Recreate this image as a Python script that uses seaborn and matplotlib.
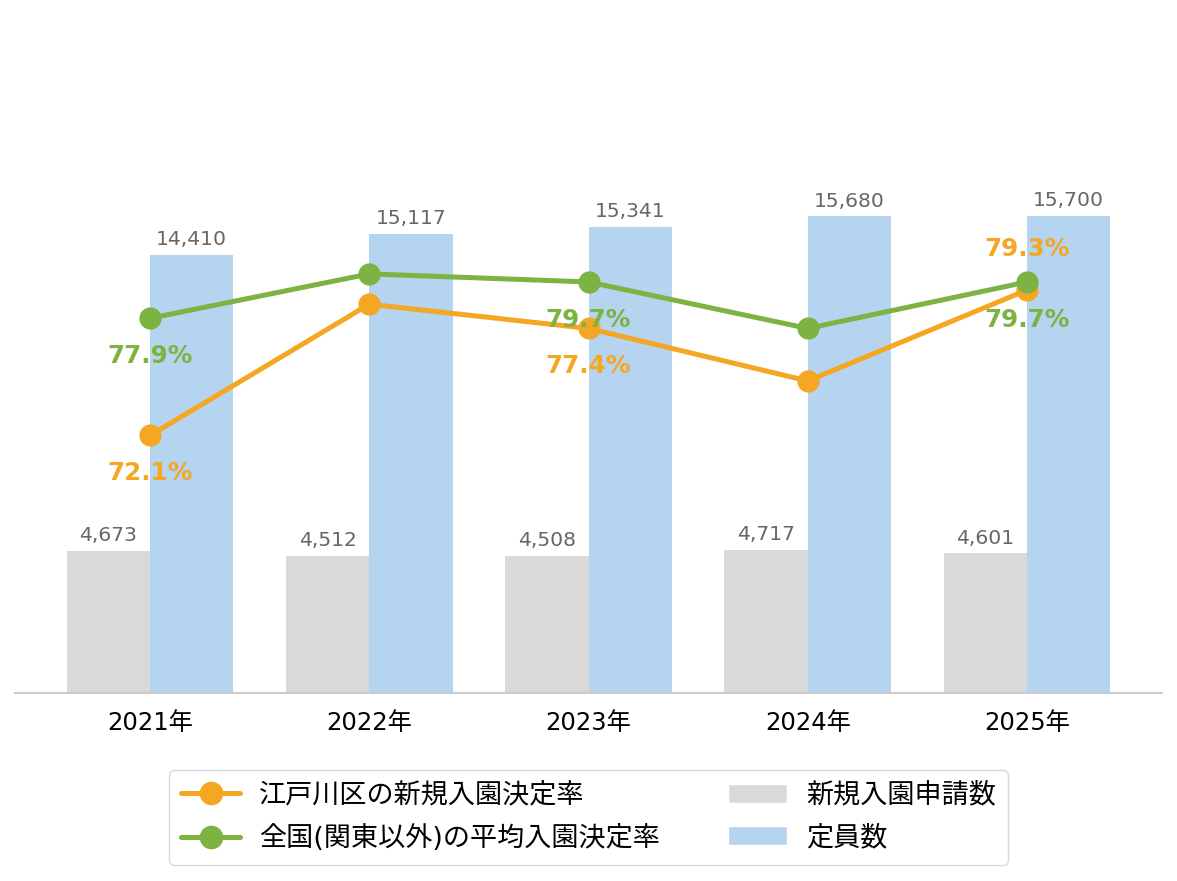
import matplotlib.pyplot as plt
import seaborn as sns
import pandas as pd
from matplotlib.lines import Line2D
from matplotlib.patches import Patch

# data
years = ["2021年", "2022年", "2023年", "2024年", "2025年"]
applicants = [4673, 4512, 4508, 4717, 4601]
capacity = [14410, 15117, 15341, 15680, 15700]
edogawa_rate = [72.1, 78.6, 77.4, 74.8, 79.3]
national_rate = [77.9, 80.1, 79.7, 77.4, 79.7]

bar_names = ["新規入園申請数", "定員数"]
line_names = ["江戸川区の新規入園決定率", "全国(関東以外)の平均入園決定率"]

# which rate labels are shown, and where (above / below the point)
edogawa_shown = {0: "below", 2: "below", 4: "above"}
national_shown = {0: "below", 2: "below", 4: "below"}

grey = "#D9D9D9"
blue = "#B4D4EF"
orange = "#F5A623"
green = "#7CB342"

sns.set_theme(style="white")
plt.rcParams["font.family"] = ["DejaVu Sans", "Noto Sans CJK JP"]
plt.rcParams["text.color"] = "black"

bars = pd.DataFrame({
    "year": years * 2,
    "series": [bar_names[0]] * len(years) + [bar_names[1]] * len(years),
    "value": applicants + capacity,
})

fig = plt.figure(figsize=(11.77, 8.81), dpi=100)
ax = fig.add_axes([15 / 1177, 188 / 881, 1147 / 1177, 693 / 881])

sns.barplot(
    data=bars, x="year", y="value", hue="series", hue_order=bar_names,
    palette=[grey, blue], width=0.76, saturation=1, ax=ax, legend=False,
    linewidth=0, edgecolor="none",
)
for cont in ax.containers:
    ax.bar_label(cont, labels=[f"{v:,.0f}" for v in cont.datavalues],
                 padding=4, color="#666666", fontsize=14.6)

ax.set_xlim(-0.616, 4.616)
ax.set_ylim(0, 22800)
ax.set_xlabel("")
ax.set_ylabel("")
ax.set_yticks([])
ax.tick_params(axis="x", labelsize=17.5, length=0, pad=13, colors="black")
for s in ["left", "right", "top"]:
    ax.spines[s].set_visible(False)
ax.spines["bottom"].set_color("#CCCCCC")
ax.spines["bottom"].set_linewidth(1.5)

ax2 = ax.twinx()
xs = list(range(len(years)))
for vals, col, shown in [(edogawa_rate, orange, edogawa_shown),
                         (national_rate, green, national_shown)]:
    sns.lineplot(x=xs, y=vals, ax=ax2, color=col, linewidth=3.6,
                 marker="o", markersize=16, markeredgewidth=0)
    for i, where in shown.items():
        dy = -38 if where == "below" else 41
        ax2.annotate(f"{vals[i]:.1f}%", (xs[i], vals[i]),
                     xytext=(0, dy), textcoords="offset pixels",
                     ha="center", va="center", color=col,
                     fontsize=17.7, fontweight="bold")

ax2.set_ylim(59.35, 93.66)
ax2.set_xlim(-0.616, 4.616)
ax2.set_yticks([])
ax2.set_ylabel("")
for s in ["left", "right", "top", "bottom"]:
    ax2.spines[s].set_visible(False)

handles = [
    Line2D([], [], color=orange, linewidth=3.6, marker="o", markersize=16),
    Line2D([], [], color=green, linewidth=3.6, marker="o", markersize=16),
    Patch(facecolor=grey),
    Patch(facecolor=blue),
]
leg = fig.legend(handles, line_names + bar_names, ncol=2, loc="center",
                 bbox_to_anchor=(0.5, 0.072), fontsize=19.5, frameon=True,
                 edgecolor="#D0D0D0", fancybox=True, handlelength=2.2,
                 handletextpad=0.7, columnspacing=2.5, labelspacing=0.62,
                 borderpad=0.45, borderaxespad=0)
for t in leg.get_texts():
    t.set_color("black")

fig.savefig("out.png", dpi=100)
